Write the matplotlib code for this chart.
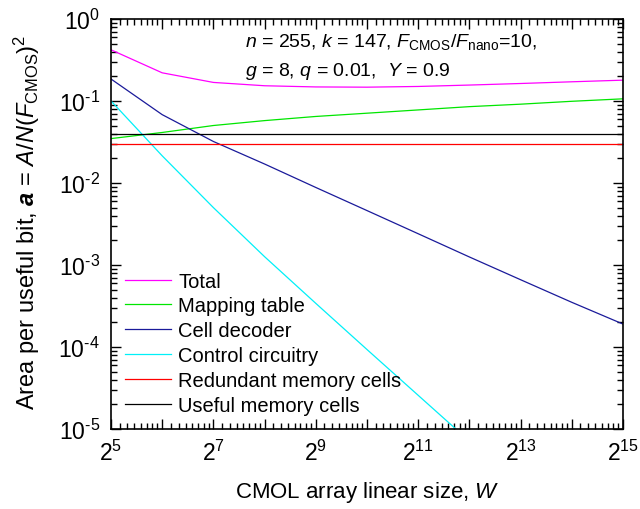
import numpy as np, matplotlib
matplotlib.use("Agg")
import matplotlib.pyplot as plt
from matplotlib.ticker import FixedLocator, FuncFormatter, LogLocator, NullFormatter

plt.rcParams["font.family"] = ["Liberation Sans", "DejaVu Sans"]
plt.rcParams["mathtext.fontset"] = "custom"
plt.rcParams["mathtext.rm"] = "Liberation Sans"
plt.rcParams["mathtext.it"] = "Liberation Sans:italic"
plt.rcParams["mathtext.bf"] = "Liberation Sans:bold:italic"

# W = 2^exps
exps = [5, 6, 7, 8, 9, 10, 11, 12, 13, 14, 15]
total = [0.42, 0.22, 0.168, 0.153, 0.148, 0.147, 0.150, 0.156, 0.163, 0.171, 0.179]
mapping = [0.0347, 0.0412, 0.0501, 0.0575, 0.0646, 0.0708, 0.0776, 0.0851, 0.0912, 0.0989, 0.106]
decoder = [0.185, 0.068, 0.032, 0.017, 0.0088, 0.0046, 0.0024, 0.00125, 6.6e-4, 3.5e-4, 1.9e-4]
control = [0.1, 0.0214, 0.0050, 1.26e-3, 3.4e-4, 9.3e-5, 2.57e-5, 7.1e-6]
redundant = [0.03] * 11
useful = [0.04] * 11

W = 2.0 ** np.array(exps)

fig = plt.figure(figsize=(6.4, 5.1), dpi=100)
ax = fig.add_axes([0.1734, 0.157, 0.8, 0.804])

ax.plot(W, total, color="#ff00ff", lw=0.9, label="Total")
ax.plot(W, mapping, color="#00e600", lw=0.9, label="Mapping table")
ax.plot(W, decoder, color="#1a1a9a", lw=0.9, label="Cell decoder")
ax.plot(W[:len(control)], control, color="#00f0f8", lw=0.9, label="Control circuitry")
ax.plot(W, redundant, color="#ff0000", lw=0.9, label="Redundant memory cells")
ax.plot(W, useful, color="black", lw=0.9, label="Useful memory cells")

ax.set_xscale("log", base=2)
ax.set_yscale("log")
ax.set_xlim(2**5, 2**15)
ax.set_ylim(1e-5, 1)

ax.xaxis.set_major_locator(FixedLocator(2.0 ** np.arange(5, 16)))
ax.xaxis.set_major_formatter(FuncFormatter(
    lambda v, p: r"$2^{%d}$" % round(np.log2(v)) if round(np.log2(v)) % 2 == 1 else ""))
minors = [2.0**n * (1 + k / 8) for n in range(5, 15) for k in range(1, 8)]
ax.xaxis.set_minor_locator(FixedLocator(minors))
ax.xaxis.set_minor_formatter(NullFormatter())


def ylab(v, p):
    e = round(np.log10(v))
    if e < 0:
        return r"$10^{\text{-}%d}$" % (-e)
    return r"$10^{%d}$" % e


ax.yaxis.set_major_locator(LogLocator(base=10, numticks=10))
ax.yaxis.set_minor_locator(LogLocator(base=10, subs=np.arange(2, 10), numticks=20))
ax.yaxis.set_minor_formatter(NullFormatter())
ax.yaxis.set_major_formatter(FuncFormatter(ylab))

ax.tick_params(which="both", direction="in", top=True, right=True, width=1)
ax.tick_params(which="major", length=7, labelsize=16.5, pad=8)
ax.tick_params(which="minor", length=4)
for s in ax.spines.values():
    s.set_linewidth(1.2)

ax.set_xlabel(r"CMOL array linear size, $W$", fontsize=16, labelpad=10)
ax.set_ylabel(r"Area per useful bit, $\mathbf{a}$ = $A/N(F_{\rm CMOS})^2$", fontsize=17)
ax.yaxis.set_label_coords(-0.135, 0.507)

ax.text(0.262, 0.945, r"$n$ = 255, $k$ = 147, $F_{\rm CMOS}/F_{\rm nano}$=10,",
        transform=ax.transAxes, fontsize=14, va="center")
ax.text(0.262, 0.875, r"$g$ = 8, $q$ = 0.01,  $Y$ = 0.9",
        transform=ax.transAxes, fontsize=14, va="center")

ax.legend(loc="lower left", bbox_to_anchor=(0.0, 0.0), frameon=False, fontsize=14.5,
          handlelength=2.3, handletextpad=0.35, labelspacing=0.29, borderaxespad=0.3)

fig.savefig("out.png", dpi=100)
